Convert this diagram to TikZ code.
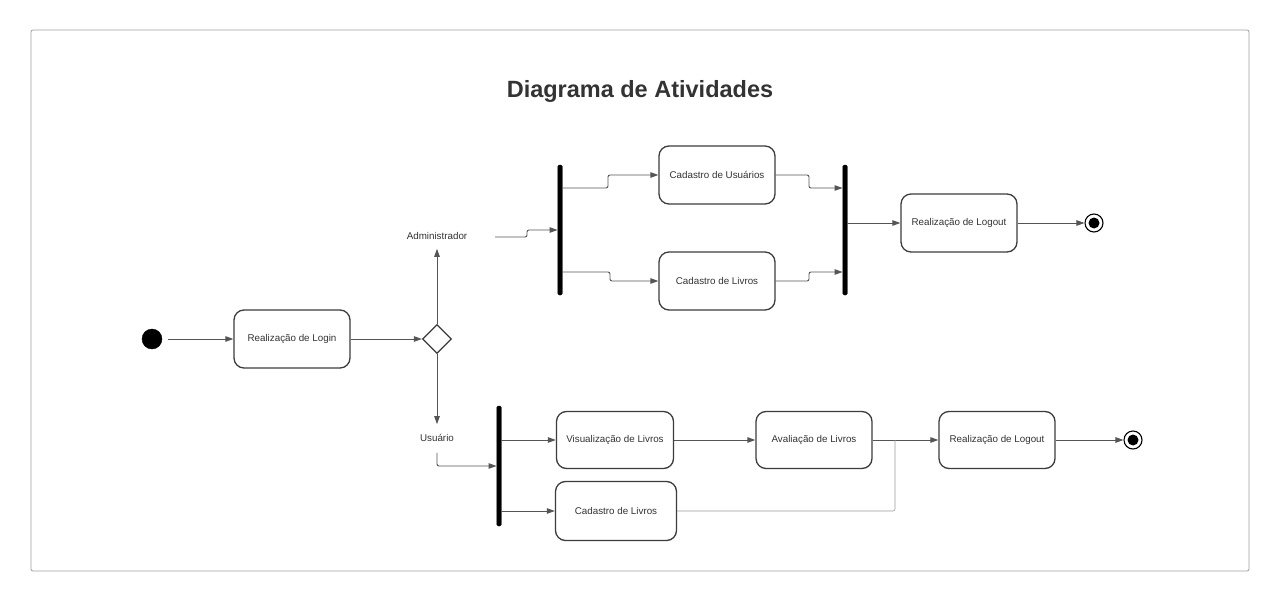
\documentclass[tikz,border=0pt]{standalone}
\usepackage{fontspec}
\setmainfont{Liberation Sans}
\usetikzlibrary{arrows.meta,shapes.geometric}
\definecolor{boxc}{HTML}{3C3C3C}
\definecolor{linec}{HTML}{555555}
\definecolor{txt}{HTML}{333333}
\begin{document}
\begin{tikzpicture}[x=1pt,y=-1pt,
  act/.style={draw=boxc, line width=1.3pt, rounded corners=10pt, minimum width=116pt, minimum height=58pt, font=\fontsize{9.8}{12}\selectfont, text=txt, inner sep=0pt},
  bar/.style={fill=black, draw=black, minimum width=4.5pt, minimum height=130pt, inner sep=0pt, rounded corners=1.5pt},
  flow/.style={draw=linec, line width=0.9pt, rounded corners=2pt, -{Triangle[length=8pt,width=5.5pt]}},
  lbl/.style={font=\fontsize{9.8}{12}\selectfont, text=txt, inner sep=3pt},
  initial/.style={circle, fill=black, draw=black, minimum size=20pt, inner sep=0pt},
  final/.style={circle, draw=black, line width=1.1pt, fill=white, minimum size=18pt, inner sep=0pt},
  decision/.style={diamond, draw=boxc, line width=1.3pt, minimum size=29pt, inner sep=0pt}]

\fill[white] (0,0) rectangle (1280,602);
\useasboundingbox (0,0) rectangle (1280,602);
\draw[draw=gray!75, line width=0.8pt, rounded corners=2pt] (31,30) rectangle (1249,571);

\node[font=\bfseries\fontsize{23.5}{28}\selectfont, text=txt] (title) at (640,91) {Diagrama de Atividades};

% main line
\node[initial] (start) at (152,339) {};
\node[act] (login) at (292,339) {Realização de Login};
\node[decision] (dec) at (437,339) {};
\node[lbl] (adm) at (437,236) {Administrador};
\node[lbl] (usr) at (437,438) {Usuário};

% administrator branch
\node[bar] (fork1) at (560,230) {};
\node[act] (cu) at (717,175) {Cadastro de Usuários};
\node[act] (cl) at (717,281) {Cadastro de Livros};
\node[bar] (join1) at (845,230) {};
\node[act] (lo1) at (959,223) {Realização de Logout};
\node[final] (end1) at (1094,223) {};
\fill[black] (end1.center) circle (5.5pt);

% user branch
\node[bar, minimum height=120pt] (fork2) at (499,466) {};
\node[act, minimum width=117pt, minimum height=57pt] (vis) at (615,440) {Visualização de Livros};
\node[act, minimum width=121pt, minimum height=59pt] (cl2) at (616,511) {Cadastro de Livros};
\node[act, minimum height=57pt] (ava) at (814,440) {Avaliação de Livros};
\node[act, minimum height=57pt] (lo2) at (997,440) {Realização de Logout};
\node[final] (end2) at (1133,440) {};
\fill[black] (end2.center) circle (5.5pt);

\coordinate (admout) at (495,237);
\coordinate (merge) at (895,440);

% connectors
\draw[flow, shorten <=6pt] (start) -- (login);
\draw[flow] (login) -- (dec);
\draw[flow, shorten >=6pt] (dec) -- (adm);
\draw[flow, shorten >=7pt] (dec) -- (usr);
\draw[flow] (admout) -- (527,237) |- (fork1.west |- 0,230);
\draw[flow] (fork1.east |- 0,188) -- (608,188) |- (cu.west);
\draw[flow] (fork1.east |- 0,272) -- (610,272) |- (cl.west);
\draw[flow] (cu.east) -- (809,175) |- (join1.west |- 0,188);
\draw[flow] (cl.east) -- (809,281) |- (join1.west |- 0,272);
\draw[flow] (join1.east |- lo1) -- (lo1);
\draw[flow] (lo1) -- (end1);

\draw[flow, shorten <=8pt] (usr.south) |- (fork2.west |- 0,466);
\draw[flow] (fork2.east |- vis) -- (vis);
\draw[flow] (fork2.east |- cl2) -- (cl2);
\draw[flow] (vis) -- (ava);
\draw[flow] (ava) -- (lo2);
\draw[flow] (lo2) -- (end2);
\draw[draw=gray!80, line width=0.6pt, rounded corners=2pt] (cl2.east) -| (merge);
\end{tikzpicture}
\end{document}
